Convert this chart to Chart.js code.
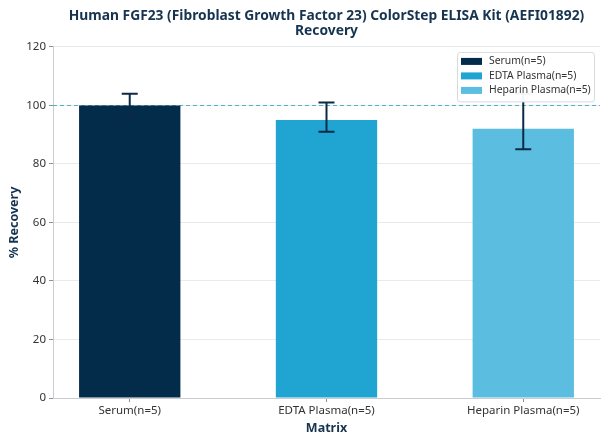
<!DOCTYPE html>
<html>
<head>
<meta charset="utf-8">
<script src="https://cdn.jsdelivr.net/npm/chart.js@4.4.1/dist/chart.umd.min.js"></script>
<style>
  html, body { margin: 0; padding: 0; background: #fff; }
  #wrap { width: 608px; height: 444px; position: relative; }
</style>
</head>
<body>
<div id="wrap"><canvas id="recoveryChart"></canvas></div>
<script>
// --- Data ---
const categories = ['Serum(n=5)', 'EDTA Plasma(n=5)', 'Heparin Plasma(n=5)'];
const recovery = [100, 95, 92];
const errUpper = [104, 101, 104];
const errLower = [96, 91, 85];
const barColors = ['#032b4a', '#20a5d2', '#5bbee0'];
const yTicks = [0, 20, 40, 60, 80, 100, 120];
const targetLine = 100;

const navy = '#16334f';

// dashed reference line at 100%
const targetLinePlugin = {
    id: 'targetLine',
    beforeDatasetsDraw(chart) {
        const { ctx, chartArea, scales } = chart;
        const y = Math.round(scales.y.getPixelForValue(targetLine)) + 0.5;
        ctx.save();
        ctx.strokeStyle = '#4fb3cf';
        ctx.lineWidth = 1;
        ctx.setLineDash([4, 3]);
        ctx.beginPath();
        ctx.moveTo(chartArea.left, y);
        ctx.lineTo(chartArea.right, y);
        ctx.stroke();
        ctx.restore();
    }
};

// error bars with caps
const errorBarPlugin = {
    id: 'errorBars',
    afterDatasetsDraw(chart) {
        const { ctx, scales } = chart;
        ctx.save();
        ctx.strokeStyle = '#0c2a45';
        ctx.lineWidth = 2;
        categories.forEach(function (c, i) {
            const x = scales.x.getPixelForValue(i);
            const yHi = scales.y.getPixelForValue(errUpper[i]);
            const yLo = scales.y.getPixelForValue(errLower[i]);
            ctx.beginPath();
            ctx.moveTo(x, yHi); ctx.lineTo(x, yLo);
            ctx.moveTo(x - 8, yHi); ctx.lineTo(x + 8, yHi);
            ctx.moveTo(x - 8, yLo); ctx.lineTo(x + 8, yLo);
            ctx.stroke();
        });
        ctx.restore();
    }
};

// legend drawn last so it sits on top of the error bars
const boxLegendPlugin = {
    id: 'boxLegend',
    afterDraw(chart) {
        const { ctx, chartArea } = chart;
        const w = 137, rowH = 14.5;
        const h = categories.length * rowH + 6;
        const left = chartArea.right - w - 6;
        const top = chartArea.top + 5;
        ctx.save();
        ctx.fillStyle = 'rgba(255,255,255,0.95)';
        ctx.strokeStyle = '#d6dadd';
        ctx.lineWidth = 1;
        ctx.beginPath();
        ctx.roundRect(left + 0.5, top + 0.5, w, h, 3);
        ctx.fill();
        ctx.stroke();
        ctx.font = "10.4px 'Noto Sans', sans-serif";
        ctx.textBaseline = 'middle';
        categories.forEach(function (c, i) {
            const yc = top + 9.5 + i * rowH;
            ctx.fillStyle = barColors[i];
            ctx.fillRect(left + 4, yc - 3.5, 21, 7);
            ctx.fillStyle = '#333';
            ctx.fillText(c, left + 32, yc);
        });
        ctx.restore();
    }
};

Chart.defaults.font.family = "'Noto Sans', sans-serif";

const ctx = document.getElementById('recoveryChart').getContext('2d');
new Chart(ctx, {
    type: 'bar',
    data: {
        datasets: [{
            label: 'Recovery',
            data: categories.map(function (c, i) { return { x: i, y: recovery[i] }; }),
            backgroundColor: barColors,
            borderWidth: 0,
            categoryPercentage: 0.515,
            barPercentage: 1
        }]
    },
    options: {
        responsive: true,
        maintainAspectRatio: false,
        animation: false,
        layout: { padding: { left: 0, right: 8, top: 0, bottom: 0 } },
        plugins: {
            legend: { display: false },
            tooltip: { enabled: false },
            title: {
                display: true,
                fullSize: false,
                text: ['Human FGF23 (Fibroblast Growth Factor 23) ColorStep ELISA Kit (AEFI01892)', 'Recovery'],
                color: navy,
                font: { size: 13.8, weight: 'bold', lineHeight: 1.12 },
                padding: { top: 8, bottom: 8 }
            }
        },
        scales: {
            x: {
                type: 'linear',
                offset: false,
                min: -0.39,
                max: 2.39,
                afterBuildTicks: function (scale) {
                    scale.ticks = categories.map(function (c, i) { return { value: i }; });
                },
                afterFit: function (scale) { scale.height = 46; },
                ticks: {
                    color: '#333',
                    font: { size: 11.5 },
                    padding: 2,
                    callback: function (value) { return categories[value]; }
                },
                grid: { offset: false, drawOnChartArea: false, tickLength: 4, tickColor: '#8a9299' },
                border: { color: '#c9cdd1' },
                title: {
                    display: true,
                    text: 'Matrix',
                    color: navy,
                    font: { size: 12.5, weight: 'bold' },
                    padding: { top: 2, bottom: 8 }
                }
            },
            y: {
                min: 0,
                max: 120,
                afterBuildTicks: function (scale) {
                    scale.ticks = yTicks.map(function (v) { return { value: v }; });
                },
                afterFit: function (scale) { scale.width = 53; },
                ticks: { color: '#333', font: { size: 11.5 }, padding: 3 },
                grid: { color: '#e7ebee', tickLength: 4, tickColor: '#8a9299' },
                border: { color: '#c9cdd1' },
                title: {
                    display: true,
                    text: '% Recovery',
                    color: navy,
                    font: { size: 12.5, weight: 'bold' },
                    padding: { top: 7, bottom: 0 }
                }
            }
        }
    },
    plugins: [targetLinePlugin, errorBarPlugin, boxLegendPlugin]
});
</script>
</body>
</html>
